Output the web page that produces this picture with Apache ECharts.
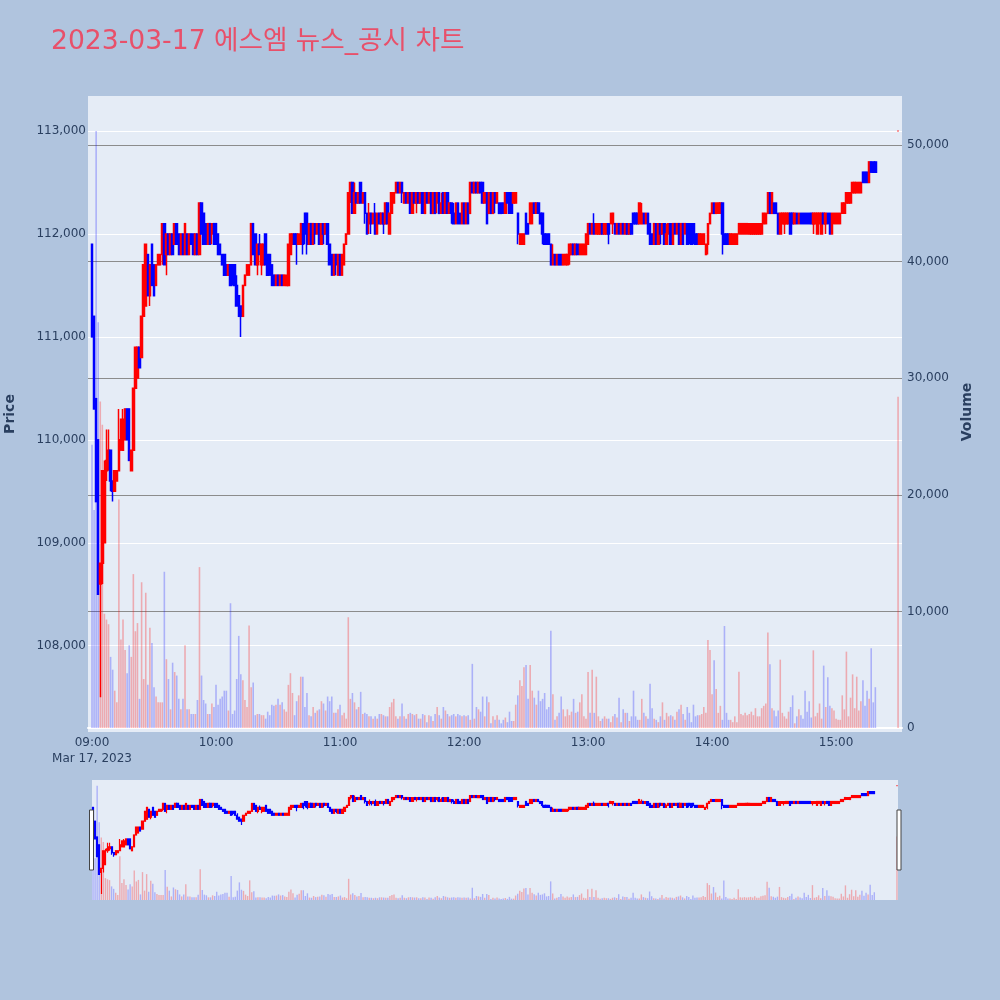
<!DOCTYPE html>
<html><head><meta charset="utf-8">
<script src="https://cdn.jsdelivr.net/npm/echarts@6/dist/echarts.min.js"></script>
<style>html,body{margin:0;padding:0;background:#b0c4de;}#c{width:1000px;height:1000px;}</style>
</head><body><div id="c"></div>
<script>
const titleText = '2023-03-17 에스엠 뉴스_공시 차트';
const hourMinutes = [0, 60, 120, 180, 240, 300, 360];
const hourLabels = ['09:00\nMar 17, 2023', '10:00', '11:00', '12:00', '13:00', '14:00', '15:00'];
const closingMinute = 390; // 15:30 closing auction
// per-minute candles from 09:00 to 15:19, then 15:30: [open, close, low, high]
const ohlc = [
[111900,111000,111000,111900],[111200,110300,110300,111200],[110400,109400,109400,110400],[110000,108500,108500,110000],[108600,108800,107500,108800],[108800,109700,108600,109700],[109000,109700,109000,109800],[109700,109800,109600,110100],[109800,109900,109700,110100],[109900,109600,109500,109900],
[109600,109500,109400,109600],[109500,109700,109500,109700],[109600,109700,109600,109700],[109700,110000,109700,110300],[109900,110200,109900,110200],[109900,110200,109900,110300],[110000,110300,110000,110300],[110300,110000,110000,110300],[110300,109800,109800,110300],[109700,109900,109700,109900],
[109900,110500,109900,110500],[110500,110900,110500,110900],[110600,110900,110600,110900],[110900,110700,110700,110900],[110800,111200,110800,111200],[111200,111700,111200,111700],[111300,111900,111300,111900],[111800,111400,111400,111800],[111400,111700,111300,111700],[111900,111500,111500,111900],
[111700,111400,111400,111700],[111500,111700,111500,111700],[111700,111800,111700,111800],[111700,111800,111700,111800],[111800,112100,111700,112100],[112100,111700,111700,112100],[111800,112000,111600,112000],[112000,111800,111800,112000],[111800,112000,111800,112000],[112000,111800,111800,112000],
[111900,112100,111900,112100],[112100,111900,111900,112100],[112000,111800,111800,112000],[111800,112000,111800,112000],[112000,111800,111800,112000],[111800,112100,111800,112100],[112000,111800,111800,112000],[111800,112000,111800,112000],[112000,111900,111900,112000],[112000,111800,111800,112000],
[111800,112000,111800,112000],[112000,111800,111800,112000],[111800,112300,111800,112300],[112300,112000,112000,112300],[112200,111900,111900,112200],[112100,111900,111900,112100],[111900,112100,111900,112100],[112100,111900,111900,112100],[112000,112100,111900,112100],[112100,111900,111900,112100],
[112100,111900,111900,112100],[112000,111800,111800,112000],[111900,111800,111800,111900],[111800,111700,111700,111800],[111800,111600,111600,111800],[111700,111600,111600,111700],[111600,111700,111600,111700],[111700,111500,111500,111700],[111700,111600,111500,111700],[111700,111500,111500,111700],
[111500,111300,111300,111600],[111400,111200,111200,111400],[111300,111200,111000,111300],[111200,111500,111200,111500],[111500,111600,111500,111600],[111600,111700,111600,111700],[111600,111700,111600,111700],[111700,112100,111700,112100],[112100,111800,111800,112100],[112000,111700,111700,112000],
[111700,111900,111600,111900],[111900,111800,111800,112000],[111700,111900,111600,111900],[111700,111900,111700,111900],[112000,111700,111700,112000],[111800,111600,111600,111800],[111800,111600,111600,111800],[111700,111500,111500,111700],[111600,111500,111500,111600],[111500,111600,111500,111600],
[111600,111500,111500,111600],[111500,111600,111500,111600],[111600,111500,111500,111600],[111500,111600,111500,111600],[111500,111600,111500,111600],[111500,111900,111500,111900],[111800,112000,111800,112000],[111900,112000,111900,112000],[112000,111900,111900,112000],[112000,111900,111700,112000],
[111900,112000,111900,112000],[111900,112100,111900,112100],[112100,111900,111800,112100],[112200,112000,111900,112200],[112200,111900,111800,112200],[111900,112100,111900,112100],[112100,111900,111900,112100],[111900,112100,111900,112100],[112100,112000,111900,112100],[112000,112100,112000,112100],
[112100,111900,111900,112100],[111900,112100,111900,112100],[112100,112000,111900,112100],[112000,112100,112000,112100],[112100,111900,111900,112100],[111900,111700,111700,111900],[111800,111600,111600,111800],[111600,111800,111600,111800],[111800,111700,111600,111800],[111600,111800,111600,111800],
[111800,111600,111600,111800],[111600,111800,111600,111800],[111700,111900,111700,111900],[111900,112000,111900,112000],[112000,112400,112000,112400],[112400,112500,112300,112500],[112500,112200,112200,112500],[112200,112400,112200,112500],[112400,112300,112300,112400],[112300,112400,112300,112400],
[112500,112300,112300,112500],[112300,112400,112300,112400],[112400,112200,112100,112400],[112200,112000,112000,112200],[112100,112200,112000,112300],[112200,112100,112000,112200],[112100,112200,112100,112200],[112200,112000,112000,112300],[112000,112200,112000,112200],[112200,112100,112100,112200],
[112100,112200,112100,112200],[112200,112100,112000,112200],[112100,112300,112100,112300],[112300,112100,112100,112300],[112000,112200,112000,112200],[112200,112400,112200,112400],[112300,112400,112300,112400],[112400,112500,112400,112500],[112500,112400,112400,112500],[112400,112500,112400,112500],
[112500,112400,112300,112500],[112300,112400,112300,112400],[112400,112300,112300,112400],[112300,112400,112300,112400],[112400,112200,112200,112400],[112200,112400,112200,112400],[112400,112300,112300,112400],[112300,112400,112200,112400],[112400,112300,112300,112400],[112300,112400,112300,112400],
[112400,112200,112200,112400],[112200,112400,112200,112400],[112400,112300,112300,112400],[112300,112400,112300,112400],[112400,112200,112200,112400],[112200,112400,112200,112400],[112400,112200,112200,112400],[112300,112400,112200,112400],[112400,112200,112200,112400],[112200,112300,112200,112400],
[112400,112200,112200,112400],[112200,112400,112200,112400],[112400,112200,112200,112400],[112200,112300,112200,112300],[112300,112200,112100,112300],[112200,112100,112100,112300],[112100,112300,112100,112300],[112300,112100,112100,112300],[112200,112100,112100,112200],[112100,112300,112100,112300],
[112300,112100,112100,112300],[112100,112300,112100,112300],[112300,112100,112100,112300],[112200,112500,112200,112500],[112500,112400,112400,112500],[112400,112500,112400,112500],[112500,112400,112400,112500],[112400,112500,112400,112500],[112500,112400,112400,112500],[112500,112300,112300,112500],
[112300,112400,112300,112400],[112400,112100,112100,112400],[112200,112400,112200,112400],[112400,112200,112200,112400],[112200,112400,112200,112400],[112400,112300,112200,112400],[112300,112400,112300,112400],[112300,112200,112200,112300],[112300,112200,112200,112300],[112300,112200,112200,112300],
[112200,112400,112200,112400],[112400,112300,112300,112400],[112400,112200,112200,112400],[112400,112200,112200,112400],[112300,112400,112300,112400],[112300,112400,112300,112400],[112200,112000,111900,112200],[111900,112000,111900,112000],[111900,112000,111900,112000],[111900,112000,111900,112000],
[112200,112000,112000,112200],[112100,112000,112000,112100],[112100,112300,112100,112300],[112100,112300,112100,112300],[112300,112200,112200,112300],[112200,112300,112200,112300],[112300,112200,112200,112300],[112200,112100,112100,112200],[112200,112000,111900,112200],[112000,111900,111900,112000],
[112000,111900,111900,112000],[112000,111900,111900,112000],[111900,111700,111700,111900],[111700,111800,111700,111900],[111800,111700,111700,111800],[111700,111800,111700,111800],[111800,111700,111700,111800],[111800,111700,111700,111800],[111700,111800,111700,111800],[111700,111800,111700,111800],
[111700,111800,111700,111800],[111800,111900,111700,111900],[111800,111900,111800,111900],[111900,111800,111800,111900],[111800,111900,111800,111900],[111900,111800,111800,111900],[111800,111900,111800,111900],[111800,111900,111800,111900],[111800,111900,111800,111900],[111800,112000,111800,112000],
[111900,112100,111900,112100],[112100,112000,112000,112100],[112000,112100,112000,112100],[112100,112000,112000,112200],[112000,112100,112000,112100],[112000,112100,112000,112100],[112000,112100,112000,112100],[112100,112000,112000,112100],[112000,112100,112000,112100],[112000,112100,112000,112100],
[112100,112000,111900,112100],[112100,112200,112100,112200],[112100,112200,112000,112200],[112100,112000,112000,112100],[112000,112100,112000,112100],[112100,112000,112000,112100],[112000,112100,112000,112100],[112100,112000,112000,112100],[112000,112100,112000,112100],[112100,112000,112000,112100],
[112000,112100,112000,112100],[112100,112000,112000,112100],[112200,112100,112100,112200],[112200,112100,112100,112200],[112200,112100,112100,112200],[112100,112300,112100,112300],[112100,112200,112100,112300],[112200,112100,112100,112200],[112100,112200,112100,112200],[112200,112000,112000,112200],
[112100,111900,111900,112100],[112000,111900,111900,112000],[111900,112100,111900,112100],[112100,111900,111900,112100],[111900,112100,111900,112100],[112100,112000,111900,112100],[112000,112100,112000,112100],[112100,111900,111900,112100],[111900,112000,111900,112100],[112000,112100,112000,112100],
[112100,111900,111900,112100],[111900,112100,111900,112100],[112100,112000,112000,112100],[112000,112100,112000,112100],[112100,111900,111900,112100],[111900,112100,111900,112100],[112100,111900,111900,112100],[112000,112100,112000,112100],[112100,111900,111900,112100],[112100,112000,111900,112100],
[112100,111900,111900,112100],[112100,112000,111900,112100],[112000,111900,111900,112000],[112000,111900,111900,112000],[111900,112000,111900,112000],[111900,112000,111900,112000],[111900,112000,111900,112000],[111800,111900,111800,111900],[111900,112100,111800,112100],[112100,112200,112100,112200],
[112200,112300,112200,112300],[112300,112200,112200,112300],[112200,112300,112200,112300],[112200,112300,112200,112300],[112200,112300,112200,112300],[112300,112000,111800,112300],[112000,111900,111900,112000],[112000,111900,111900,112000],[112000,111900,111900,112000],[111900,112000,111900,112000],
[111900,112000,111900,112000],[111900,112000,111900,112000],[111900,112000,111900,112000],[112000,112100,112000,112100],[112000,112100,112000,112100],[112000,112100,112000,112100],[112000,112100,112000,112100],[112000,112100,112000,112100],[112000,112100,112000,112100],[112000,112100,112000,112100],
[112000,112100,112000,112100],[112000,112100,112000,112100],[112000,112100,112000,112100],[112000,112100,112000,112100],[112000,112100,112000,112100],[112100,112200,112100,112200],[112100,112200,112100,112200],[112200,112400,112200,112400],[112400,112200,112200,112400],[112200,112400,112200,112400],
[112300,112200,112200,112300],[112300,112200,112200,112300],[112200,112000,112000,112200],[112000,112200,112000,112200],[112100,112200,112100,112200],[112100,112200,112000,112200],[112100,112200,112100,112200],[112100,112200,112100,112200],[112200,112000,112000,112200],[112200,112100,112100,112200],
[112100,112200,112100,112200],[112200,112100,112100,112200],[112100,112200,112100,112200],[112200,112100,112100,112200],[112200,112100,112100,112200],[112200,112100,112100,112200],[112200,112100,112100,112200],[112200,112100,112100,112200],[112200,112100,112100,112200],[112100,112200,112000,112200],
[112100,112200,112100,112200],[112000,112200,112000,112200],[112100,112200,112100,112200],[112000,112200,112000,112200],[112200,112100,112100,112200],[112100,112200,112000,112200],[112200,112100,112100,112200],[112200,112000,112000,112200],[112000,112200,112000,112200],[112100,112200,112100,112200],
[112100,112200,112100,112200],[112100,112200,112100,112200],[112100,112200,112100,112200],[112200,112300,112200,112300],[112200,112300,112200,112300],[112300,112400,112300,112400],[112300,112400,112300,112400],[112300,112400,112300,112400],[112400,112500,112400,112500],[112400,112500,112400,112500],
[112400,112500,112400,112500],[112400,112500,112400,112500],[112400,112500,112400,112500],[112600,112500,112500,112600],[112600,112500,112500,112600],[112600,112500,112500,112600],[112500,112700,112500,112700],[112700,112600,112600,112700],[112700,112600,112600,112700],[112700,112600,112600,112700],
[113000,113000,113000,113000]
];
const volumes = [
24300,18700,51200,34800,28000,26000,9800,9300,8900,6100,
5000,3200,2200,19600,7600,9300,6700,4700,7100,6100,
13200,8300,9000,2500,12500,4200,11600,3700,8600,7300,
3500,2700,2200,2200,2200,13400,5900,4200,1600,5600,
4800,4500,2500,1600,2500,7100,1600,1600,1200,1200,
1200,2400,13800,4500,2400,2100,1200,1200,2100,1800,
3700,2000,2500,2700,3200,3200,1500,10700,1200,1500,
4200,7900,4600,4100,2400,1800,8800,3500,3900,1100,
1200,1200,1100,1100,800,1400,1100,2000,1900,2000,
2500,2000,2200,1600,1400,3700,4700,3000,1100,2300,
2800,4400,4400,1800,3000,1100,1000,1800,1300,1500,
1600,2300,2100,1500,2700,2300,2700,1300,1300,1600,
2000,1100,1300,800,9500,2500,3000,2200,1600,1800,
3100,1200,1300,1200,1000,1000,800,1000,800,1200,
1200,1100,1000,1000,1800,2200,2500,1000,800,1000,
2100,1000,800,1200,1300,1200,1100,1200,800,800,
1200,1100,500,1100,1000,600,1200,1800,1100,800,
1800,1500,1200,1000,1100,1200,1000,1200,1100,1000,
1100,1000,1100,700,5500,800,1800,1600,1400,2700,
1000,2700,2200,400,1000,700,1100,700,400,700,
900,500,1400,600,600,2000,2800,4100,3600,5200,
5400,2500,5400,3200,2600,2000,3200,2300,2500,3000,
1600,1800,8350,2900,700,1000,1300,2700,1600,1000,
1600,1100,1400,2500,1300,1400,2200,2900,1000,800,
4800,1300,5000,1300,4400,1000,600,800,1000,800,
800,500,1000,1200,900,2600,500,1600,1300,1300,
600,1000,3200,1000,700,700,2500,1300,1000,800,
3800,1700,800,700,500,1000,2200,700,1300,1000,
1100,1000,700,1400,1600,2000,1200,700,1800,1300,
500,2000,1000,1100,1100,1200,1800,1300,7550,6700,
2900,5800,3350,1300,1900,700,8750,1300,700,700,
500,1000,500,4830,1200,1100,1300,1100,1200,1400,
1100,1700,1000,1000,1700,1900,2100,8180,5460,1700,
1500,1000,1500,5860,1300,1000,800,1400,1800,2800,
400,1000,1600,1100,800,3200,1400,2300,900,6660,
1000,1300,2100,800,5350,1800,4350,1900,1700,1500,
800,700,700,2800,1600,6550,1000,2600,4600,1700,
4400,1500,2300,4100,1900,3200,2500,6840,2200,3500,
28400
];

const UP = '#ff0000', DOWN = '#0000ff';
const TXT = '#2a3f5f';
const FONT = 'DejaVu Sans, Verdana, sans-serif';
const minutes = ohlc.map((_, i) => (i < ohlc.length - 1 ? i : closingMinute));
const isUp = ohlc.map((d, i) => d[1] > d[0] || (d[1] === d[0] && (i === 0 || d[1] >= ohlc[i - 1][1])));
const candleData = ohlc.map((d, i) => [minutes[i], d[0], d[1], d[2], d[3]]);
const volData = volumes.map((v, i) => ({
  value: [minutes[i], v],
  itemStyle: { color: isUp[i] ? 'rgba(255,0,0,0.28)' : 'rgba(0,0,255,0.25)' }
}));

const chart = echarts.init(document.getElementById('c'));
chart.setOption({
  animation: false,
  backgroundColor: '#b0c4de',
  title: {
    text: titleText, left: 46, top: 24,
    textStyle: { color: '#e8506a', fontSize: 26.6, fontWeight: 'normal', fontFamily: 'DejaVu Sans, Noto Sans CJK KR, sans-serif' }
  },
  grid: [
    { left: 88, right: 98, top: 96, bottom: 268, show: true, backgroundColor: '#e5ecf6', borderWidth: 0, containLabel: false, outerBoundsMode: 'none' },
    { left: 88, right: 98, top: 96, bottom: 272, show: false, containLabel: false, outerBoundsMode: 'none' },
    { left: 92, right: 102, top: 780, bottom: 100, show: true, backgroundColor: '#e5ecf6', borderWidth: 0, containLabel: false, outerBoundsMode: 'none' }
  ],
  xAxis: [
    {
      type: 'value', gridIndex: 0, min: -1.94, max: 391.9,
      axisLine: { show: false }, axisTick: { show: false }, splitLine: { show: false },
      axisLabel: {
        customValues: hourMinutes,
        formatter: (v) => hourLabels[hourMinutes.indexOf(v)] || '',
        color: TXT, fontSize: 12, fontFamily: FONT, margin: 3, lineHeight: 16
      }
    },
    {
      type: 'value', gridIndex: 1, min: -1.94, max: 391.9,
      axisLine: { show: true, onZero: false, lineStyle: { color: '#ffffff', width: 2 } },
      axisTick: { show: false }, axisLabel: { show: false }, splitLine: { show: false }
    },
    { type: 'value', gridIndex: 2, min: -0.5, max: 390.5, show: false, splitLine: { show: false } }
  ],
  yAxis: [
    {
      type: 'value', gridIndex: 0, position: 'left', min: 107162, max: 113340,
      name: 'Price', nameLocation: 'middle', nameGap: 71,
      nameTextStyle: { color: TXT, fontSize: 14, fontWeight: 'bold', fontFamily: FONT },
      axisLine: { show: false }, axisTick: { show: false },
      axisLabel: { showMinLabel: false, showMaxLabel: false, color: TXT, fontSize: 12, fontFamily: FONT, margin: 2,
        formatter: (v) => v.toLocaleString('en-US') },
      splitLine: { show: true, showMinLine: false, showMaxLine: false, lineStyle: { color: '#ffffff', width: 1 } }
    },
    {
      type: 'value', gridIndex: 1, position: 'right', min: 0, max: 54202, interval: 10000,
      name: 'Volume', nameLocation: 'middle', nameGap: 58,
      nameTextStyle: { color: TXT, fontSize: 14, fontWeight: 'bold', fontFamily: FONT },
      axisLine: { show: false }, axisTick: { show: false },
      axisLabel: { showMaxLabel: false, color: TXT, fontSize: 12, fontFamily: FONT, margin: 5,
        formatter: (v) => v.toLocaleString('en-US') },
      splitLine: { show: true, showMinLine: false, showMaxLine: false, lineStyle: { color: '#8c8c8c', width: 1 } }
    },
    { type: 'value', gridIndex: 2, min: 107200, max: 113290, show: false, splitLine: { show: false } },
    { type: 'value', gridIndex: 2, min: 0, max: 53760, show: false, splitLine: { show: false } }
  ],
  series: [
    { type: 'bar', xAxisIndex: 1, yAxisIndex: 1, data: volData, barWidth: 1.6, z: 1, silent: true },
    { type: 'candlestick', xAxisIndex: 0, yAxisIndex: 0, data: candleData, barWidth: 2, z: 3, silent: true,
      itemStyle: { color: UP, color0: DOWN, borderColor: UP, borderColor0: DOWN, borderWidth: 1.5 } },
    { type: 'bar', xAxisIndex: 2, yAxisIndex: 3, data: volData, barWidth: 1.4, z: 1, silent: true },
    { type: 'candlestick', xAxisIndex: 2, yAxisIndex: 2, data: candleData, barWidth: 1.6, z: 3, silent: true,
      itemStyle: { color: UP, color0: DOWN, borderColor: UP, borderColor0: DOWN, borderWidth: 1.2 } }
  ],
  graphic: [
    { type: 'rect', shape: { x: 89.5, y: 810, width: 4, height: 60 }, style: { fill: '#ffffff', stroke: '#444444', lineWidth: 1 }, z: 100 },
    { type: 'rect', shape: { x: 897, y: 810, width: 4, height: 60 }, style: { fill: '#ffffff', stroke: '#444444', lineWidth: 1 }, z: 100 }
  ]
});
</script>
</body></html>
